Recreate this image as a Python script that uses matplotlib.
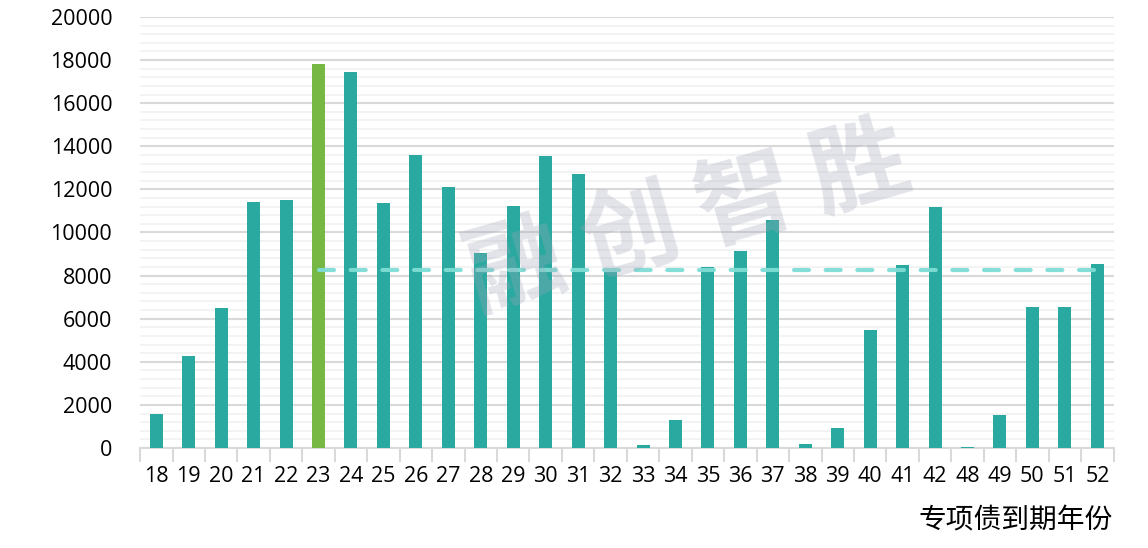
import matplotlib
matplotlib.use('Agg')
import matplotlib.pyplot as plt
import numpy as np
from matplotlib.ticker import MultipleLocator, FixedLocator

plt.rcParams['font.family'] = ['Open Sans', 'Noto Sans CJK SC', 'DejaVu Sans']

# 专项债到期年份 / 规模
years = ['18', '19', '20', '21', '22', '23', '24', '25', '26', '27',
         '28', '29', '30', '31', '32', '33', '34', '35', '36', '37',
         '38', '39', '40', '41', '42', '48', '49', '50', '51', '52']
values = [1580, 4280, 6510, 11410, 11530, 17810, 17440, 11350, 13580, 12090,
          9070, 11210, 13540, 12700, 8150, 140, 1300, 8420, 9120, 10560,
          190, 930, 5490, 8470, 11160, 50, 1540, 6560, 6560, 8560]
highlight = '23'
avg_value = 8280   # 虚线
avg_from = '23'

teal = '#29a99f'
green = '#76b843'

fig = plt.figure(figsize=(11.48, 5.48), dpi=100)
ax = fig.add_axes([0.122, 0.1825, 0.848, 0.7865])

x = np.arange(len(years))
cols = [green if y == highlight else teal for y in years]
ax.bar(x, values, width=0.4, color=cols, zorder=3)

i0 = years.index(avg_from)
ax.plot([x[i0], x[-1]], [avg_value, avg_value], color='#7fddd5', lw=3,
        dashes=(3.6, 4.0), solid_capstyle='round', dash_capstyle='round',
        alpha=0.95, zorder=4)

ax.set_xlim(-0.5, len(years) - 0.5)
ax.set_ylim(0, 20000)
ax.yaxis.set_major_locator(MultipleLocator(2000))
ax.yaxis.set_minor_locator(MultipleLocator(400))
ax.grid(axis='y', which='minor', color='#f2f2f2', lw=1.3, zorder=0)
ax.grid(axis='y', which='major', color='#d9d9d9', lw=1.5, zorder=1)

ax.set_xticks(x)
ax.set_xticklabels(years)
ax.xaxis.set_minor_locator(FixedLocator(np.arange(-0.5, len(years), 1)))
ax.tick_params(axis='x', which='major', length=0, pad=13, labelsize=15.5)
ax.tick_params(axis='x', which='minor', length=10, width=1.5, color='#d9d9d9')
ax.tick_params(axis='y', which='both', length=0, pad=20, labelsize=15.5)

for s in ['top', 'right', 'left']:
    ax.spines[s].set_visible(False)
ax.spines['bottom'].set_color('#d9d9d9')
ax.spines['bottom'].set_linewidth(1.5)

fig.text(0.969, 0.035, '专项债到期年份', ha='right', va='baseline', fontsize=20,
         family=['Noto Sans CJK SC', 'DejaVu Sans'])

# 水印
fig.text(0.60, 0.60, '融 创 智 胜', ha='center', va='center', fontsize=70,
         rotation=16, color='#a0a6b8', alpha=0.3, fontweight='bold',
         family=['Noto Sans CJK SC', 'DejaVu Sans'], zorder=10)

fig.savefig('out.png', dpi=100)
